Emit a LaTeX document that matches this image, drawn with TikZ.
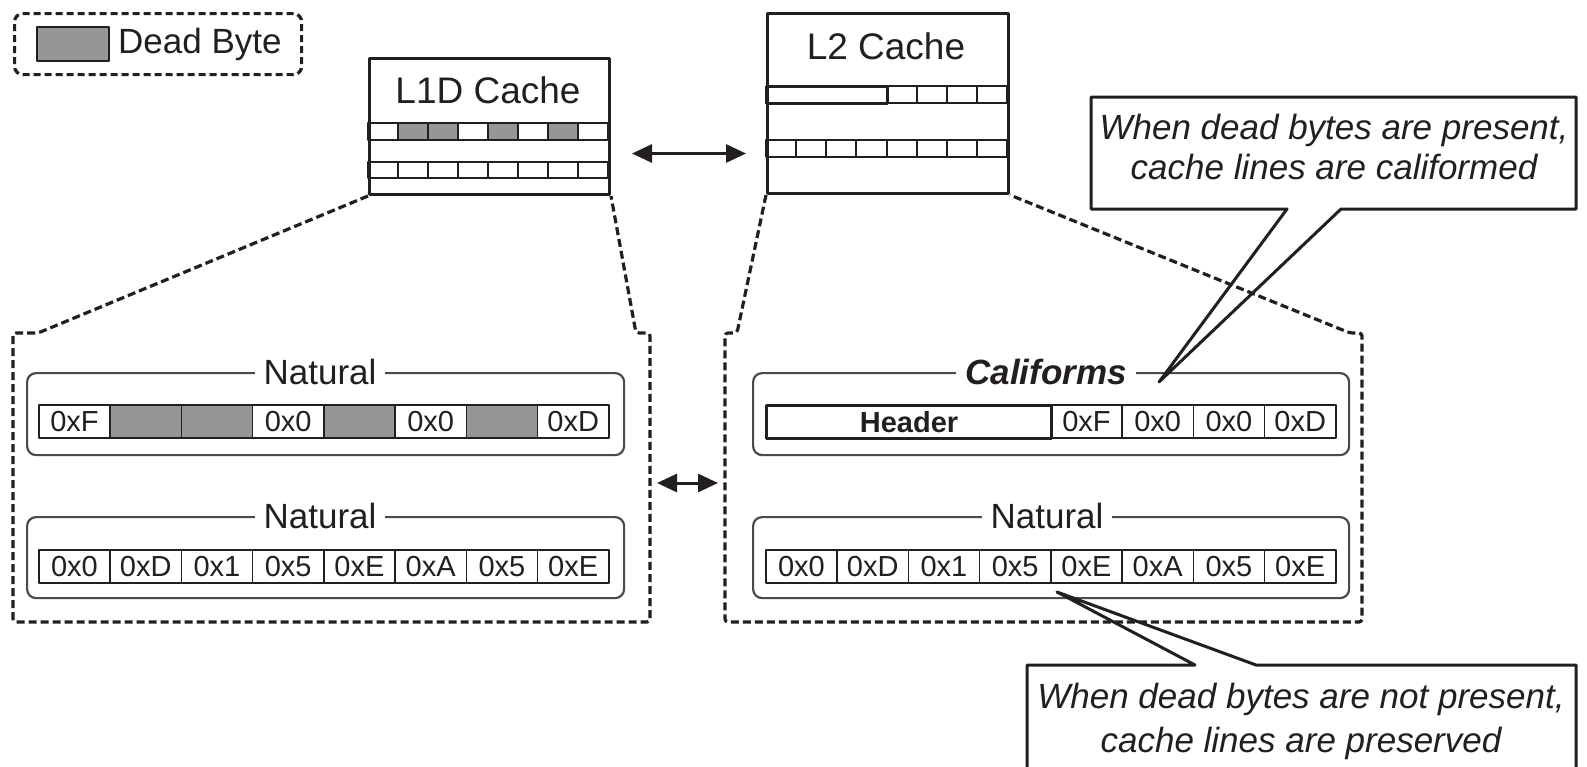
\documentclass[tikz,border=0pt]{standalone}
\usepackage{fontspec}
\setmainfont{Liberation Sans}
\usetikzlibrary{arrows.meta}
\definecolor{ink}{RGB}{35,31,32}
\definecolor{dead}{RGB}{150,150,150}
\definecolor{frame}{RGB}{75,75,75}
\begin{document}
\begin{tikzpicture}[x=1pt,y=-1pt,line join=round,
  every node/.style={text=ink},
  dashedline/.style={draw=ink,line width=3.2pt,dash pattern=on 8pt off 4pt},
  cachebox/.style={draw=ink,line width=3pt,anchor=north west,inner sep=0pt},
  minicell/.style={draw=ink,line width=2pt},
  group/.style={draw=frame,line width=2.2pt,rounded corners=9pt,anchor=north west,inner sep=0pt},
  grouptitle/.style={fill=white,inner xsep=9pt,inner ysep=1pt,font=\fontsize{35}{40}\selectfont},
  cell/.style={draw=ink,line width=1.6pt,minimum width=71.25pt,minimum height=33pt,inner sep=0pt,anchor=north west,font=\fontsize{29}{30}\selectfont},
  biarrow/.style={draw=ink,line width=3pt,{Triangle[length=20pt,width=18pt]}-{Triangle[length=20pt,width=18pt]}},
  callout/.style={draw=ink,line width=3pt},
  callouttext/.style={align=center,inner sep=0pt,font=\fontsize{35}{40}\selectfont\itshape}]
\useasboundingbox (0,0) rectangle (1587,766);
\clip (0,0) rectangle (1587,766);

% legend
\node (legend) [dashedline,rounded corners=8pt,dash pattern=on 7pt off 4pt,anchor=north west,minimum width=287pt,minimum height=61pt,inner sep=0pt] at (13,12) {};
\node (legendbox) [draw=ink,line width=2pt,fill=dead,anchor=north west,minimum width=72pt,minimum height=34pt,inner sep=0pt] at (36,26) {};
\node (legendtext) [anchor=west,inner sep=2pt,font=\fontsize{35}{40}\selectfont] at (116,44) {Dead Byte};

% L1D cache
\node (l1d) [cachebox,minimum width=240pt,minimum height=136pt] at (368,57) {};
\node (l1dtitle) [font=\fontsize{37}{40}\selectfont] at (488,90) {L1D Cache};
\foreach \i in {0,...,7} {
  \draw[minicell] ({368+30*\i},123) rectangle ({398+30*\i},140);
  \draw[minicell] ({368+30*\i},162) rectangle ({398+30*\i},178);
}
\foreach \i in {1,2,4,6} {
  \draw[minicell,fill=dead] ({368+30*\i},123) rectangle ({398+30*\i},140);
}

% L2 cache
\node (l2) [cachebox,minimum width=241pt,minimum height=180pt] at (766,12) {};
\node (l2title) [font=\fontsize{37}{40}\selectfont] at (886,46) {L2 Cache};
\foreach \i in {0,...,3} {
  \draw[minicell] ({887+30*\i},86) rectangle ({917+30*\i},103);
}
\draw[draw=ink,line width=3pt] (766,86) rectangle (887,103);
\foreach \i in {0,...,7} {
  \draw[minicell] ({766+30.125*\i},140) rectangle ({796.125+30.125*\i},157);
}

% arrow between caches
\draw[biarrow] ([xshift=21pt,yshift=-27pt]l1d.east) -- ([xshift=-20pt,yshift=-27pt]l1d.east -| l2.west);

% zoom outlines
\draw[dashedline,rounded corners=3pt] (l1d.south west) -- (38,333) -- (13,333) -- (13,622) -- (650,622) -- (650,333) -- (636,333) -- (l1d.south east);
\draw[dashedline,rounded corners=3pt] (l2.south west) -- (737,333) -- (725,333) -- (725,622) -- (1362,622) -- (1362,333) -- (1350,333) -- (l2.south east);

% arrow between expanded views
\coordinate (leftedge) at (650,483);
\coordinate (rightedge) at (725,483);
\draw[biarrow,shorten <=7pt,shorten >=7pt] (leftedge) -- (rightedge);

% left groups
\node (lg1) [group,minimum width=597pt,minimum height=82pt] at (26,372) {};
\node (lg1t) [grouptitle] at (320,372) {Natural};
\foreach \t/\f [count=\i from 0] in {0xF/white,{}/dead,{}/dead,0x0/white,{}/dead,0x0/white,{}/dead,0xD/white}
  \node (lg1c\i) [cell,fill=\f] at ({38+71.25*\i},404) {\t};

\node (lg2) [group,minimum width=597pt,minimum height=81pt] at (26,516) {};
\node (lg2t) [grouptitle] at (320,516) {Natural};
\foreach \t [count=\i from 0] in {0x0,0xD,0x1,0x5,0xE,0xA,0x5,0xE}
  \node (lg2c\i) [cell] at ({38+71.25*\i},549) {\t};

% right groups
\node (rg1) [group,minimum width=596pt,minimum height=82pt] at (752,372) {};
\node (rg1t) [grouptitle,font=\fontsize{35}{40}\selectfont\bfseries\itshape] at (1046,372) {Califorms};
\node (hdr) [cell,line width=3pt,minimum width=285pt,font=\fontsize{29}{30}\selectfont\bfseries] at (765,404) {Header};
\foreach \t [count=\i from 0] in {0xF,0x0,0x0,0xD}
  \node (rg1c\i) [cell] at ({1050+71.25*\i},404) {\t};

\node (rg2) [group,minimum width=596pt,minimum height=81pt] at (752,516) {};
\node (rg2t) [grouptitle] at (1047,516) {Natural};
\foreach \t [count=\i from 0] in {0x0,0xD,0x1,0x5,0xE,0xA,0x5,0xE}
  \node (rg2c\i) [cell] at ({765+71.25*\i},549) {\t};

% callouts
\node (c1) [callouttext] at (1334,147) {When dead bytes are present,\\cache lines are califormed};
\coordinate (tip1) at (1159,382);
\draw[callout] (1091,97) -- (1576,97) -- (1576,209) -- (1341,209) -- (tip1) -- (1287,209) -- (1091,209) -- cycle;

\node (c2) [callouttext,font=\fontsize{35}{44}\selectfont\itshape] at (1301,721) {When dead bytes are not present,\\cache lines are preserved};
\coordinate (tip2) at (1057,592);
\draw[callout] (1027,790) -- (1027,665) -- (1195,665) -- (tip2) -- (1256,665) -- (1576,665) -- (1576,790);
\end{tikzpicture}
\end{document}
